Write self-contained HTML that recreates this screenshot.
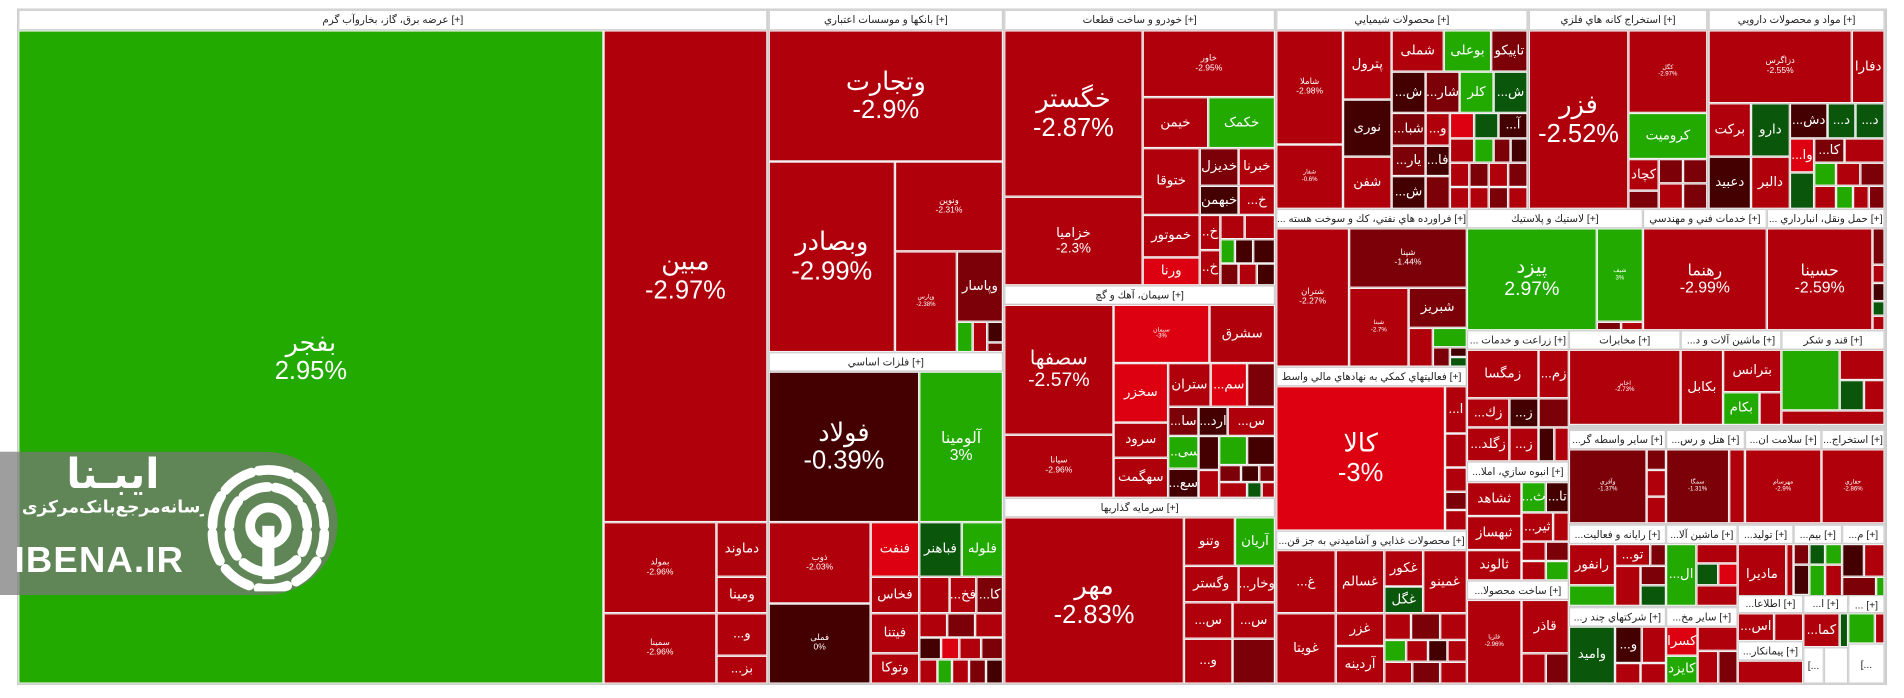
<!DOCTYPE html>
<html><head><meta charset="utf-8">
<style>
html,body{margin:0;padding:0;background:#fff;width:1904px;height:698px;overflow:hidden}
#w{position:absolute;left:0;top:0;width:1568px;height:575px;transform:scale(1.2143);transform-origin:0 0;font-family:"Liberation Sans","DejaVu Sans",sans-serif}
#w div{position:absolute;box-sizing:border-box;overflow:hidden;white-space:nowrap}
.t{border:1px solid #f2f2f2;color:#fff;display:flex;align-items:center;justify-content:center;text-align:center;font-size:11px;line-height:1.1}
.h{background:#fff;border:1px solid #d0d0d0;color:#222;font-size:8.5px;display:flex;align-items:center;justify-content:center}
.R{background:#b0000c}.D{background:#7c0008}.K{background:#440000}.B{background:#dc0010}.G{background:#22aa00}.H{background:#0a560a}
.L{font-size:21px}.M{font-size:16px}.s{font-size:7px}.xs{font-size:5px}
#frame{left:14px;top:7px;width:1540px;height:557px;border:1px solid #ccc;background:#d0d0d0}
</style></head><body>
<div id="w">
<div id="frame"></div>
<!-- sector 1 -->
<div class="h" style="left:15px;top:8px;width:617px;height:17px">عرضه برق، گاز، بخاروآب گرم [+]</div>
<div class="t G L" style="left:15px;top:25px;width:482px;height:538px">بفجر<br>2.95%</div>
<div class="t R L" style="left:497px;top:25px;width:135px;height:405px">مبین<br>-2.97%</div>
<div class="t R s" style="left:497px;top:430px;width:93px;height:75px">بمولد<br>-2.96%</div>
<div class="t R" style="left:590px;top:430px;width:42px;height:45px">دماوند</div>
<div class="t R" style="left:590px;top:475px;width:42px;height:30px">ومینا</div>
<div class="t R s" style="left:497px;top:505px;width:93px;height:58px">سمینا<br>-2.96%</div>
<div class="t R" style="left:590px;top:505px;width:42px;height:35px">...و</div>
<div class="t R" style="left:590px;top:540px;width:42px;height:23px">...بز</div>
<!-- banks -->
<div class="h" style="left:633px;top:8px;width:193px;height:17px">بانكها و موسسات اعتباري [+]</div>
<div class="t R L" style="left:633px;top:25px;width:193px;height:108px">وتجارت<br>-2.9%</div>
<div class="t R L" style="left:633px;top:133px;width:104px;height:157px">وبصادر<br>-2.99%</div>
<div class="t R s" style="left:737px;top:133px;width:89px;height:74px">ونوین<br>-2.31%</div>
<div class="t R xs" style="left:737px;top:207px;width:51px;height:83px">وپارس<br>-2.38%</div>
<div class="t D" style="left:788px;top:207px;width:38px;height:58px">وپاسار</div>
<div class="t G" style="left:788px;top:265px;width:13px;height:25px"></div>
<div class="t R" style="left:801px;top:265px;width:12px;height:25px"></div>
<div class="t K" style="left:813px;top:265px;width:13px;height:17px"></div>
<div class="t D" style="left:813px;top:282px;width:13px;height:8px"></div>
<div class="h" style="left:633px;top:290px;width:193px;height:16px">فلزات اساسي [+]</div>
<div class="t K L" style="left:633px;top:306px;width:124px;height:124px">فولاد<br>-0.39%</div>
<div class="t G" style="left:757px;top:306px;width:69px;height:124px;font-size:13px">آلومینا<br>3%</div>
<div class="t R s" style="left:633px;top:430px;width:84px;height:67px">ذوب<br>-2.03%</div>
<div class="t B" style="left:717px;top:430px;width:40px;height:45px">فنفت</div>
<div class="t H" style="left:757px;top:430px;width:35px;height:45px">فباهنر</div>
<div class="t G" style="left:792px;top:430px;width:34px;height:45px">فلوله</div>
<div class="t K s" style="left:633px;top:497px;width:84px;height:66px">فملی<br>0%</div>
<div class="t R" style="left:717px;top:475px;width:40px;height:30px">فخاس</div>
<div class="t R" style="left:717px;top:505px;width:40px;height:33px">فیتنا</div>
<div class="t R" style="left:717px;top:538px;width:40px;height:25px">وتوکا</div>
<div class="t R" style="left:757px;top:475px;width:25px;height:30px"></div>
<div class="t R" style="left:782px;top:475px;width:22px;height:30px">...فخ</div>
<div class="t D" style="left:804px;top:475px;width:22px;height:30px">...کا</div>
<div class="t R" style="left:757px;top:505px;width:23px;height:20px"></div>
<div class="t D" style="left:780px;top:505px;width:23px;height:20px"></div>
<div class="t R" style="left:803px;top:505px;width:23px;height:20px"></div>
<div class="t K" style="left:757px;top:525px;width:18px;height:18px"></div>
<div class="t B" style="left:775px;top:525px;width:15px;height:18px"></div>
<div class="t R" style="left:790px;top:525px;width:18px;height:18px"></div>
<div class="t D" style="left:808px;top:525px;width:18px;height:18px"></div>
<div class="t R" style="left:757px;top:543px;width:15px;height:20px"></div>
<div class="t G" style="left:772px;top:543px;width:12px;height:20px"></div>
<div class="t R" style="left:784px;top:543px;width:14px;height:20px"></div>
<div class="t D" style="left:798px;top:543px;width:14px;height:20px"></div>
<div class="t K" style="left:812px;top:543px;width:14px;height:20px"></div>
<!-- auto -->
<div class="h" style="left:827px;top:8px;width:223px;height:17px">خودرو و ساخت قطعات [+]</div>
<div class="t R L" style="left:827px;top:25px;width:114px;height:137px">خگستر<br>-2.87%</div>
<div class="t R" style="left:827px;top:162px;width:114px;height:73px">خزامیا<br>-2.3%</div>
<div class="t R s" style="left:941px;top:25px;width:109px;height:55px">خاور<br>-2.95%</div>
<div class="t R" style="left:941px;top:80px;width:54px;height:42px">خیمن</div>
<div class="t G" style="left:995px;top:80px;width:55px;height:42px">خکمک</div>
<div class="t R" style="left:941px;top:122px;width:47px;height:55px">ختوقا</div>
<div class="t R" style="left:941px;top:177px;width:47px;height:35px">خموتور</div>
<div class="t B" style="left:941px;top:212px;width:47px;height:23px">ورنا</div>
<div class="t D" style="left:988px;top:122px;width:32px;height:31px">خدیزل</div>
<div class="t R" style="left:1020px;top:122px;width:30px;height:31px">خبرنا</div>
<div class="t K" style="left:988px;top:153px;width:32px;height:24px">خبهمن</div>
<div class="t R" style="left:1020px;top:153px;width:30px;height:24px">...خ</div>
<div class="t R" style="left:988px;top:177px;width:17px;height:29px">..خ</div>
<div class="t R" style="left:988px;top:206px;width:17px;height:29px">..خ</div>
<div class="t R" style="left:1005px;top:177px;width:20px;height:20px"></div>
<div class="t R" style="left:1025px;top:177px;width:25px;height:20px"></div>
<div class="t G" style="left:1005px;top:197px;width:12px;height:20px"></div>
<div class="t K" style="left:1017px;top:197px;width:15px;height:20px"></div>
<div class="t K" style="left:1032px;top:197px;width:18px;height:20px"></div>
<div class="t D" style="left:1005px;top:217px;width:15px;height:18px"></div>
<div class="t R" style="left:1020px;top:217px;width:15px;height:18px"></div>
<div class="t K" style="left:1035px;top:217px;width:15px;height:18px"></div>
<!-- cement -->
<div class="h" style="left:827px;top:235px;width:223px;height:16px">سيمان، آهك و گچ [+]</div>
<div class="t R M" style="left:827px;top:251px;width:90px;height:107px">سصفها<br>-2.57%</div>
<div class="t R s" style="left:827px;top:358px;width:90px;height:52px">سیانا<br>-2.96%</div>
<div class="t B xs" style="left:917px;top:251px;width:79px;height:48px">سیمان<br>-3%</div>
<div class="t R" style="left:996px;top:251px;width:54px;height:48px">سشرق</div>
<div class="t B" style="left:917px;top:299px;width:45px;height:49px">سخزر</div>
<div class="t R" style="left:917px;top:348px;width:45px;height:29px">سرود</div>
<div class="t R" style="left:917px;top:377px;width:45px;height:33px">سهگمت</div>
<div class="t R" style="left:962px;top:299px;width:35px;height:36px">ستران</div>
<div class="t B" style="left:997px;top:299px;width:30px;height:36px">...سم</div>
<div class="t D" style="left:1027px;top:299px;width:23px;height:36px"></div>
<div class="t D" style="left:962px;top:335px;width:25px;height:24px">...سا</div>
<div class="t K" style="left:987px;top:335px;width:24px;height:24px">...ارد</div>
<div class="t R" style="left:1011px;top:335px;width:39px;height:24px">...س</div>
<div class="t G" style="left:962px;top:359px;width:25px;height:27px">...سی</div>
<div class="t K" style="left:962px;top:386px;width:25px;height:24px">...سع</div>
<div class="t K" style="left:987px;top:359px;width:17px;height:28px"></div>
<div class="t G" style="left:1004px;top:359px;width:23px;height:24px"></div>
<div class="t K" style="left:1027px;top:359px;width:23px;height:24px"></div>
<div class="t R" style="left:987px;top:387px;width:17px;height:23px"></div>
<div class="t D" style="left:1004px;top:383px;width:18px;height:14px"></div>
<div class="t K" style="left:1022px;top:383px;width:15px;height:14px"></div>
<div class="t D" style="left:1037px;top:383px;width:13px;height:14px"></div>
<div class="t R" style="left:1004px;top:397px;width:23px;height:13px"></div>
<div class="t H" style="left:1027px;top:397px;width:12px;height:13px"></div>
<div class="t R" style="left:1039px;top:397px;width:11px;height:13px"></div>
<!-- investments -->
<div class="h" style="left:827px;top:410px;width:223px;height:16px">سرمايه گذاريها [+]</div>
<div class="t R L" style="left:827px;top:426px;width:148px;height:137px">مهر<br>-2.83%</div>
<div class="t R" style="left:975px;top:426px;width:42px;height:40px">وتنو</div>
<div class="t G" style="left:1017px;top:426px;width:33px;height:40px">آریان</div>
<div class="t R" style="left:975px;top:466px;width:45px;height:30px">وگستر</div>
<div class="t R" style="left:1020px;top:466px;width:30px;height:30px">...وخار</div>
<div class="t R" style="left:975px;top:496px;width:40px;height:30px">...س</div>
<div class="t R" style="left:1015px;top:496px;width:35px;height:30px">...س</div>
<div class="t R" style="left:975px;top:526px;width:40px;height:37px">...و</div>
<div class="t D" style="left:1015px;top:526px;width:35px;height:37px"></div>
<!-- chemical -->
<div class="h" style="left:1051px;top:8px;width:207px;height:17px">محصولات شيميايي [+]</div>
<div class="t R s" style="left:1051px;top:25px;width:55px;height:94px">شاملا<br>-2.98%</div>
<div class="t R xs" style="left:1051px;top:119px;width:55px;height:53px">شفار<br>-0.6%</div>
<div class="t R" style="left:1106px;top:25px;width:40px;height:57px">پترول</div>
<div class="t K" style="left:1106px;top:82px;width:40px;height:47px">نوری</div>
<div class="t R" style="left:1106px;top:129px;width:40px;height:43px">شفن</div>
<div class="t R" style="left:1146px;top:25px;width:43px;height:34px">شملی</div>
<div class="t G" style="left:1189px;top:25px;width:39px;height:34px">بوعلی</div>
<div class="t D" style="left:1228px;top:25px;width:30px;height:34px">تاپیکو</div>
<div class="t K" style="left:1146px;top:59px;width:28px;height:34px">...ش</div>
<div class="t D" style="left:1174px;top:59px;width:28px;height:34px">...شار</div>
<div class="t G" style="left:1202px;top:59px;width:28px;height:34px">کلر</div>
<div class="t H" style="left:1230px;top:59px;width:28px;height:34px">...ش</div>
<div class="t D" style="left:1146px;top:93px;width:28px;height:27px">...شبا</div>
<div class="t R" style="left:1174px;top:93px;width:20px;height:27px">...و</div>
<div class="t B" style="left:1194px;top:93px;width:20px;height:21px"></div>
<div class="t H" style="left:1214px;top:93px;width:20px;height:21px"></div>
<div class="t K" style="left:1234px;top:93px;width:24px;height:21px">...آ</div>
<div class="t D" style="left:1146px;top:120px;width:28px;height:25px">...یار</div>
<div class="t K" style="left:1174px;top:120px;width:20px;height:25px">...فا</div>
<div class="t K" style="left:1146px;top:145px;width:28px;height:27px">...ش</div>
<div class="t D" style="left:1174px;top:145px;width:20px;height:27px"></div>
<div class="t R" style="left:1194px;top:114px;width:20px;height:20px"></div>
<div class="t G" style="left:1214px;top:114px;width:16px;height:20px"></div>
<div class="t D" style="left:1230px;top:114px;width:14px;height:20px"></div>
<div class="t K" style="left:1244px;top:114px;width:14px;height:20px"></div>
<div class="t R" style="left:1194px;top:134px;width:16px;height:20px"></div>
<div class="t D" style="left:1210px;top:134px;width:16px;height:20px"></div>
<div class="t R" style="left:1226px;top:134px;width:16px;height:20px"></div>
<div class="t D" style="left:1242px;top:134px;width:16px;height:20px"></div>
<div class="t R" style="left:1194px;top:154px;width:16px;height:18px"></div>
<div class="t R" style="left:1210px;top:154px;width:16px;height:18px"></div>
<div class="t D" style="left:1226px;top:154px;width:16px;height:18px"></div>
<div class="t R" style="left:1242px;top:154px;width:16px;height:18px"></div>
<!-- mining -->
<div class="h" style="left:1259px;top:8px;width:147px;height:17px">استخراج كانه هاي فلزي [+]</div>
<div class="t R L" style="left:1259px;top:25px;width:82px;height:147px">فزر<br>-2.52%</div>
<div class="t R xs" style="left:1341px;top:25px;width:65px;height:68px">کگل<br>-2.97%</div>
<div class="t G" style="left:1341px;top:93px;width:65px;height:38px">کرومیت</div>
<div class="t R" style="left:1341px;top:131px;width:25px;height:26px">کچاد</div>
<div class="t D" style="left:1366px;top:131px;width:20px;height:20px"></div>
<div class="t D" style="left:1386px;top:131px;width:20px;height:20px"></div>
<div class="t D" style="left:1341px;top:157px;width:25px;height:15px"></div>
<div class="t R" style="left:1366px;top:151px;width:20px;height:21px"></div>
<div class="t D" style="left:1386px;top:151px;width:20px;height:21px"></div>
<!-- pharma -->
<div class="h" style="left:1407px;top:8px;width:145px;height:17px">مواد و محصولات دارويي [+]</div>
<div class="t R s" style="left:1407px;top:25px;width:118px;height:60px">دزاگرس<br>-2.55%</div>
<div class="t R" style="left:1525px;top:25px;width:27px;height:60px">دفارا</div>
<div class="t R" style="left:1407px;top:85px;width:35px;height:44px">برکت</div>
<div class="t H" style="left:1442px;top:85px;width:32px;height:44px">دارو</div>
<div class="t K" style="left:1474px;top:85px;width:31px;height:29px">...دش</div>
<div class="t H" style="left:1505px;top:85px;width:23px;height:29px">...د</div>
<div class="t H" style="left:1528px;top:85px;width:24px;height:29px">...د</div>
<div class="t B" style="left:1474px;top:114px;width:20px;height:28px">...وا</div>
<div class="t D" style="left:1494px;top:114px;width:25px;height:20px">...کا</div>
<div class="t R" style="left:1519px;top:114px;width:33px;height:20px"></div>
<div class="t K" style="left:1407px;top:129px;width:35px;height:43px">دعبید</div>
<div class="t R" style="left:1442px;top:129px;width:32px;height:43px">دالبر</div>
<div class="t H" style="left:1474px;top:142px;width:20px;height:30px"></div>
<div class="t G" style="left:1494px;top:134px;width:18px;height:19px"></div>
<div class="t R" style="left:1512px;top:134px;width:20px;height:19px"></div>
<div class="t D" style="left:1532px;top:134px;width:20px;height:19px"></div>
<div class="t R" style="left:1494px;top:153px;width:18px;height:19px"></div>
<div class="t G" style="left:1512px;top:153px;width:14px;height:19px"></div>
<div class="t R" style="left:1526px;top:153px;width:13px;height:19px"></div>
<div class="t D" style="left:1539px;top:153px;width:13px;height:19px"></div>
<!-- petroleum -->
<div class="h" style="left:1051px;top:172px;width:157px;height:16px">... فراورده هاي نفتي، كك و سوخت هسته [+]</div>
<div class="t R s" style="left:1051px;top:188px;width:60px;height:114px">شتران<br>-2.27%</div>
<div class="t D s" style="left:1111px;top:188px;width:97px;height:49px">شپنا<br>-1.44%</div>
<div class="t R xs" style="left:1111px;top:237px;width:49px;height:65px">شبنا<br>-2.7%</div>
<div class="t D" style="left:1160px;top:237px;width:48px;height:33px">شبریز</div>
<div class="t R" style="left:1160px;top:270px;width:20px;height:32px"></div>
<div class="t G" style="left:1180px;top:270px;width:28px;height:16px"></div>
<div class="t D" style="left:1180px;top:286px;width:14px;height:16px"></div>
<div class="t K" style="left:1194px;top:286px;width:14px;height:8px"></div>
<div class="t H" style="left:1194px;top:294px;width:14px;height:8px"></div>
<!-- financial aux -->
<div class="h" style="left:1051px;top:302px;width:157px;height:16px">فعاليتهاي كمكي به نهادهاي مالي واسط [+]</div>
<div class="t B L" style="left:1051px;top:318px;width:139px;height:119px">کالا<br>-3%</div>
<div class="t R" style="left:1190px;top:318px;width:18px;height:39px">...ا</div>
<div class="t R" style="left:1190px;top:357px;width:18px;height:28px"></div>
<div class="t R" style="left:1190px;top:385px;width:18px;height:20px"></div>
<div class="t D" style="left:1190px;top:405px;width:18px;height:15px"></div>
<div class="t R" style="left:1190px;top:420px;width:18px;height:17px"></div>
<!-- food -->
<div class="h" style="left:1051px;top:437px;width:157px;height:16px">...محصولات غذايي و آشاميدني به جز قن [+]</div>
<div class="t R" style="left:1051px;top:453px;width:49px;height:52px">...غ</div>
<div class="t R" style="left:1051px;top:505px;width:49px;height:58px">غویتا</div>
<div class="t R" style="left:1100px;top:453px;width:40px;height:52px">غسالم</div>
<div class="t R" style="left:1100px;top:505px;width:40px;height:27px">غزر</div>
<div class="t R" style="left:1100px;top:532px;width:40px;height:31px">آردینه</div>
<div class="t R" style="left:1140px;top:453px;width:32px;height:30px">غکور</div>
<div class="t H" style="left:1140px;top:483px;width:32px;height:22px">غگل</div>
<div class="t R" style="left:1172px;top:453px;width:36px;height:52px">غمینو</div>
<div class="t R" style="left:1140px;top:505px;width:22px;height:22px"></div>
<div class="t D" style="left:1162px;top:505px;width:24px;height:22px"></div>
<div class="t R" style="left:1186px;top:505px;width:22px;height:22px"></div>
<div class="t G" style="left:1140px;top:527px;width:18px;height:18px"></div>
<div class="t R" style="left:1158px;top:527px;width:18px;height:18px"></div>
<div class="t K" style="left:1176px;top:527px;width:16px;height:18px"></div>
<div class="t R" style="left:1192px;top:527px;width:16px;height:18px"></div>
<div class="t R" style="left:1140px;top:545px;width:23px;height:18px"></div>
<div class="t D" style="left:1163px;top:545px;width:23px;height:18px"></div>
<div class="t R" style="left:1186px;top:545px;width:22px;height:18px"></div>
<!-- rubber -->
<div class="h" style="left:1208px;top:172px;width:145px;height:16px">لاستيك و پلاستيك [+]</div>
<div class="t G M" style="left:1208px;top:188px;width:107px;height:84px">پیزد<br>2.97%</div>
<div class="t G xs" style="left:1315px;top:188px;width:38px;height:77px">شیف<br>3%</div>
<div class="t D" style="left:1315px;top:265px;width:20px;height:7px"></div>
<div class="t R" style="left:1335px;top:265px;width:18px;height:7px"></div>
<div class="h" style="left:1353px;top:172px;width:102px;height:16px">خدمات فني و مهندسي [+]</div>
<div class="t R" style="left:1353px;top:188px;width:102px;height:84px;font-size:13px">رهنما<br>-2.99%</div>
<div class="h" style="left:1455px;top:172px;width:97px;height:16px">... حمل ونقل، انبارداري [+]</div>
<div class="t R" style="left:1455px;top:188px;width:87px;height:84px;font-size:13px">حسینا<br>-2.59%</div>
<div class="t D" style="left:1542px;top:188px;width:10px;height:30px"></div>
<div class="t R" style="left:1542px;top:218px;width:10px;height:15px"></div>
<div class="t K" style="left:1542px;top:233px;width:10px;height:15px"></div>
<div class="t H" style="left:1542px;top:248px;width:10px;height:12px"></div>
<div class="t R" style="left:1542px;top:260px;width:10px;height:12px"></div>
<!-- row 272 -->
<div class="h" style="left:1208px;top:272px;width:84px;height:16px">... زراعت و خدمات [+]</div>
<div class="t R" style="left:1208px;top:288px;width:59px;height:40px">زمگسا</div>
<div class="t R" style="left:1267px;top:288px;width:25px;height:40px">...زم</div>
<div class="t R" style="left:1208px;top:328px;width:35px;height:24px">...زك</div>
<div class="t K" style="left:1243px;top:328px;width:24px;height:24px">...ز</div>
<div class="t D" style="left:1267px;top:328px;width:25px;height:24px"></div>
<div class="t R" style="left:1208px;top:352px;width:35px;height:28px">...زگلد</div>
<div class="t R" style="left:1243px;top:352px;width:24px;height:28px">...ز</div>
<div class="t K" style="left:1267px;top:352px;width:13px;height:28px"></div>
<div class="t R" style="left:1280px;top:352px;width:12px;height:28px"></div>
<div class="h" style="left:1208px;top:380px;width:84px;height:17px">...انبوه سازي، املا [+]</div>
<div class="t R" style="left:1208px;top:397px;width:45px;height:28px">ثشاهد</div>
<div class="t R" style="left:1208px;top:425px;width:45px;height:28px">ثبهساز</div>
<div class="t R" style="left:1208px;top:453px;width:45px;height:25px">ثالوند</div>
<div class="t G" style="left:1253px;top:397px;width:20px;height:25px">...ث</div>
<div class="t K" style="left:1273px;top:397px;width:19px;height:25px">...تا</div>
<div class="t R" style="left:1253px;top:422px;width:26px;height:24px">...ثیر</div>
<div class="t R" style="left:1279px;top:422px;width:13px;height:24px"></div>
<div class="t R" style="left:1253px;top:446px;width:20px;height:16px"></div>
<div class="t D" style="left:1273px;top:446px;width:19px;height:16px"></div>
<div class="t R" style="left:1253px;top:462px;width:20px;height:16px"></div>
<div class="t G" style="left:1273px;top:462px;width:19px;height:16px"></div>
<div class="h" style="left:1208px;top:478px;width:84px;height:16px">...ساخت محصولا [+]</div>
<div class="t R xs" style="left:1208px;top:494px;width:45px;height:69px">فلزیا<br>-2.96%</div>
<div class="t R" style="left:1253px;top:494px;width:39px;height:44px">قاذر</div>
<div class="t R" style="left:1253px;top:538px;width:20px;height:25px"></div>
<div class="t D" style="left:1273px;top:538px;width:19px;height:25px"></div>
<div class="h" style="left:1292px;top:272px;width:92px;height:16px">مخابرات [+]</div>
<div class="t R xs" style="left:1292px;top:288px;width:92px;height:62px">اخابر<br>-2.73%</div>
<div class="h" style="left:1384px;top:272px;width:83px;height:16px">...ماشين آلات و د [+]</div>
<div class="t R" style="left:1384px;top:288px;width:35px;height:62px">بکابل</div>
<div class="t R" style="left:1419px;top:288px;width:48px;height:35px">بترانس</div>
<div class="t G" style="left:1419px;top:323px;width:30px;height:27px">بکام</div>
<div class="t R" style="left:1449px;top:323px;width:18px;height:27px"></div>
<div class="h" style="left:1467px;top:272px;width:85px;height:16px">قند و شكر [+]</div>
<div class="t G" style="left:1467px;top:288px;width:48px;height:50px"></div>
<div class="t R" style="left:1515px;top:288px;width:37px;height:25px"></div>
<div class="t H" style="left:1515px;top:313px;width:20px;height:25px"></div>
<div class="t R" style="left:1535px;top:313px;width:17px;height:25px"></div>
<div class="t R" style="left:1467px;top:338px;width:85px;height:12px"></div>
<!-- row 354 -->
<div class="h" style="left:1292px;top:354px;width:80px;height:16px">...ساير واسطه گر [+]</div>
<div class="t D xs" style="left:1292px;top:370px;width:64px;height:61px">وآفري<br>-1.37%</div>
<div class="t D" style="left:1356px;top:370px;width:16px;height:17px"></div>
<div class="t R" style="left:1356px;top:387px;width:16px;height:22px"></div>
<div class="t R" style="left:1356px;top:409px;width:16px;height:22px"></div>
<div class="h" style="left:1372px;top:354px;width:65px;height:16px">...هتل و رس [+]</div>
<div class="t D xs" style="left:1372px;top:370px;width:52px;height:61px">سمگا<br>-1.31%</div>
<div class="t R" style="left:1424px;top:370px;width:13px;height:61px"></div>
<div class="h" style="left:1437px;top:354px;width:63px;height:16px">...سلامت ان [+]</div>
<div class="t R xs" style="left:1437px;top:370px;width:63px;height:61px">مهرسام<br>-2.9%</div>
<div class="h" style="left:1500px;top:354px;width:52px;height:16px">...استخراج [+]</div>
<div class="t R xs" style="left:1500px;top:370px;width:52px;height:61px">حفاري<br>-2.86%</div>
<!-- row 432 -->
<div class="h" style="left:1292px;top:432px;width:80px;height:16px">...رايانه و فعاليت [+]</div>
<div class="t R" style="left:1292px;top:448px;width:38px;height:34px">رانفور</div>
<div class="t G" style="left:1292px;top:482px;width:38px;height:17px"></div>
<div class="t R" style="left:1330px;top:448px;width:29px;height:18px">...تو</div>
<div class="t D" style="left:1359px;top:448px;width:13px;height:18px"></div>
<div class="t R" style="left:1330px;top:466px;width:21px;height:33px"></div>
<div class="t D" style="left:1351px;top:466px;width:21px;height:16px"></div>
<div class="t H" style="left:1351px;top:482px;width:21px;height:17px"></div>
<div class="h" style="left:1372px;top:432px;width:59px;height:16px">...ماشين آلا [+]</div>
<div class="t G" style="left:1372px;top:448px;width:25px;height:51px">...ال</div>
<div class="t R" style="left:1397px;top:448px;width:34px;height:16px"></div>
<div class="t H" style="left:1397px;top:464px;width:18px;height:18px"></div>
<div class="t B" style="left:1415px;top:464px;width:16px;height:18px"></div>
<div class="t R" style="left:1397px;top:482px;width:34px;height:17px"></div>
<div class="h" style="left:1431px;top:432px;width:46px;height:16px">...توليد [+]</div>
<div class="t R" style="left:1431px;top:448px;width:40px;height:51px">ماديرا</div>
<div class="t R" style="left:1471px;top:448px;width:6px;height:51px"></div>
<div class="h" style="left:1477px;top:432px;width:40px;height:16px">...بيم [+]</div>
<div class="t D" style="left:1477px;top:448px;width:13px;height:17px"></div>
<div class="t H" style="left:1490px;top:448px;width:13px;height:17px"></div>
<div class="t G" style="left:1503px;top:448px;width:14px;height:17px"></div>
<div class="t K" style="left:1477px;top:465px;width:13px;height:25px"></div>
<div class="t G" style="left:1490px;top:465px;width:13px;height:34px"></div>
<div class="t R" style="left:1503px;top:465px;width:14px;height:34px"></div>
<div class="t R" style="left:1477px;top:490px;width:13px;height:9px"></div>
<div class="h" style="left:1517px;top:432px;width:35px;height:16px">...م [+]</div>
<div class="t K" style="left:1517px;top:448px;width:18px;height:27px"></div>
<div class="t R" style="left:1535px;top:448px;width:17px;height:27px"></div>
<div class="t D" style="left:1517px;top:475px;width:28px;height:24px"></div>
<div class="t G" style="left:1545px;top:475px;width:7px;height:24px"></div>
<!-- row 500 -->
<div class="h" style="left:1292px;top:500px;width:80px;height:16px">...شركتهاي چند ر [+]</div>
<div class="t H" style="left:1292px;top:516px;width:38px;height:47px">واميد</div>
<div class="t K" style="left:1330px;top:516px;width:22px;height:30px">...و</div>
<div class="t R" style="left:1352px;top:516px;width:20px;height:30px"></div>
<div class="t R" style="left:1330px;top:546px;width:21px;height:17px"></div>
<div class="t R" style="left:1351px;top:546px;width:21px;height:17px"></div>
<div class="h" style="left:1372px;top:500px;width:59px;height:16px">...ساير مخ [+]</div>
<div class="t B" style="left:1372px;top:516px;width:26px;height:24px">كسرا</div>
<div class="t G" style="left:1372px;top:540px;width:26px;height:23px">كايزد</div>
<div class="t R" style="left:1398px;top:516px;width:33px;height:20px"></div>
<div class="t R" style="left:1398px;top:536px;width:17px;height:27px"></div>
<div class="t D" style="left:1415px;top:536px;width:16px;height:27px"></div>
<div class="h" style="left:1431px;top:490px;width:54px;height:15px">...اطلاعا [+]</div>
<div class="t R" style="left:1431px;top:505px;width:30px;height:23px">...اس</div>
<div class="t R" style="left:1461px;top:505px;width:24px;height:23px"></div>
<div class="h" style="left:1431px;top:528px;width:54px;height:16px">...پيمانكار [+]</div>
<div class="t R" style="left:1431px;top:544px;width:54px;height:19px"></div>
<div class="h" style="left:1485px;top:490px;width:37px;height:15px">...ا [+]</div>
<div class="t R" style="left:1485px;top:505px;width:30px;height:28px">...كما</div>
<div class="t H" style="left:1515px;top:505px;width:7px;height:28px"></div>
<div class="h" style="left:1522px;top:490px;width:30px;height:15px">... [+]</div>
<div class="t G" style="left:1522px;top:505px;width:22px;height:25px"></div>
<div class="t R" style="left:1544px;top:505px;width:8px;height:25px"></div>
<div class="h" style="left:1485px;top:533px;width:17px;height:30px">[...</div>
<div class="h" style="left:1502px;top:533px;width:20px;height:30px"></div>
<div class="h" style="left:1522px;top:530px;width:30px;height:33px">[...</div>
<!-- logo -->
<div style="left:0;top:372px;width:278px;height:118px;background:rgba(120,120,120,0.72);border-radius:0 59px 59px 0"></div>
<div style="left:18px;top:370px;width:150px;height:42px;color:#fff;font:bold 34px 'DejaVu Sans','Noto Sans CJK SC',sans-serif;text-align:center;line-height:42px">ایبـنا</div>
<div style="left:18px;top:410px;width:150px;height:20px;color:#fff;font:bold 14px 'DejaVu Sans',sans-serif;text-align:center">رسانه‌مرجع‌بانک‌مرکزی</div>
<div style="left:12px;top:440px;width:160px;height:44px;color:#fff;font:bold 30px 'Liberation Sans',sans-serif;line-height:44px;letter-spacing:1px">IBENA.IR</div>
<svg style="position:absolute;left:165px;top:375px" width="112" height="112" viewBox="0 0 112 112">
<g fill="none" stroke="#fff" stroke-linecap="round">
<circle cx="56" cy="58" r="15" stroke-width="8"/>
<path d="M24 58 A32 32 0 0 1 88 58" stroke-width="8" stroke-dasharray="22 6"/>
<path d="M10 58 A46 46 0 0 1 102 58" stroke-width="8" stroke-dasharray="26 6"/>
<path d="M24 64 A32 32 0 0 0 88 64" stroke-width="8" stroke-dasharray="20 8"/>
<path d="M10 64 A46 46 0 0 0 102 64" stroke-width="8" stroke-dasharray="24 8"/>
</g>
<rect x="51" y="58" width="10" height="44" fill="#fff"/>
</svg>
</div>
</body></html>
